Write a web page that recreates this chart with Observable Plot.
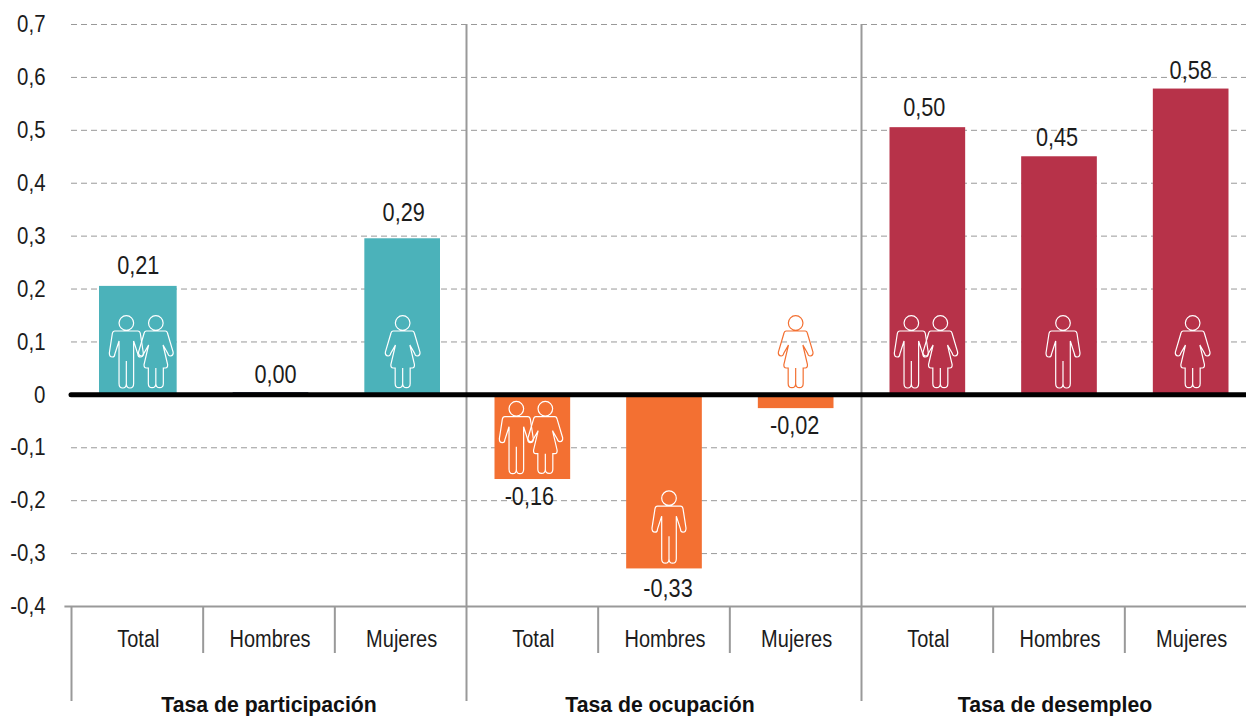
<!DOCTYPE html>
<html lang="es">
<head>
<meta charset="utf-8">
<script src="https://cdn.jsdelivr.net/npm/d3@7"></script>
<script src="https://cdn.jsdelivr.net/npm/@observablehq/plot@0.6"></script>
<style>
html,body{margin:0;padding:0;background:#fff;overflow:hidden}
svg{display:block}
</style>
</head>
<body>
<div id="chart"></div>
<script>
const groups = ["Tasa de participación", "Tasa de ocupación", "Tasa de desempleo"];
const categories = ["Total", "Hombres", "Mujeres", "Total", "Hombres", "Mujeres", "Total", "Hombres", "Mujeres"];
const barValues = [0.205, 0.004, 0.295, -0.16, -0.329, -0.026, 0.505, 0.45, 0.578];
const valueLabels = ["0,21", "0,00", "0,29", "-0,16", "-0,33", "-0,02", "0,50", "0,45", "0,58"];
const barGroups = ["part", "none", "part", "ocu", "ocu", "ocu", "des", "des", "des"];
const yTicks = [0.7, 0.6, 0.5, 0.4, 0.3, 0.2, 0.1, 0, -0.1, -0.2, -0.3, -0.4];
const groupEdges = [0, 3, 6, 9];
const subEdges = [1, 2, 4, 5, 7, 8];

const FONT = "'Liberation Sans','Arial',sans-serif";
const INK = "#1c1c1c";
const GREY = "#999999";

const bars = categories.map((c, i) => ({i, c, value: barValues[i], label: valueLabels[i], g: barGroups[i]}));

function limb(ctx, s, pts) {
  for (const p of pts) {
    if (p[0] === "M") ctx.moveTo(p[1]*s, p[2]*s);
    else if (p[0] === "L") ctx.lineTo(p[1]*s, p[2]*s);
    else if (p[0] === "Q") ctx.quadraticCurveTo(p[1]*s, p[2]*s, p[3]*s, p[4]*s);
  }
  ctx.closePath();
}
const head = (ctx, s, y) => {
  ctx.moveTo(7.3*s, y*s);
  ctx.arc(0, y*s, 7.3*s, 0, 2*Math.PI);
  ctx.closePath();
};
const sideW = [
  ["Q",-11.3,-21,-11.8,-18.5],["L",-17.3,0],["Q",-17.8,3.5,-14.5,4],["Q",-12.5,4,-12,1.5],["L",-7.2,-7],
  ["L",-11.8,12.5],["Q",-12,16,-9.5,16],["L",-7.5,16],["L",-7.5,31.5],["Q",-7.5,35.7,-3.8,35.7],["Q",0,35.7,0,31.5],["L",0,16]
];
const sideM = [
  ["Q",-13.5,-21,-14,-18.5],["L",-17,1],["Q",-17,5,-14,5],["Q",-11.5,5,-11.5,2],["L",-7.3,-11],
  ["L",-7.3,31.5],["Q",-7.3,36,-3.6,36],["Q",0,36,0,31.5],["L",0,9]
];
function mirrored(side, top) {
  const out = [["M", top, -21]];
  for (const p of side) out.push(p);
  const pts = [];
  const nodes = [[top,-21]];
  for (const p of side) nodes.push(p[0]==="Q" ? [p[3],p[4]] : [p[1],p[2]]);
  for (let k = side.length-1; k >= 0; k--) {
    const p = side[k], prev = nodes[k];
    if (p[0]==="Q") pts.push(["Q",-p[1],p[2],-prev[0],prev[1]]);
    else pts.push(["L",-prev[0],prev[1]]);
  }
  return out.concat(pts);
}
const womanPath = mirrored(sideW, -9.5);
const manPath = mirrored(sideM, -11.5);
const woman = {draw(ctx, size){const s=Math.sqrt(size/Math.PI)/36; head(ctx,s,-29); limb(ctx,s,womanPath);}};
const man = {draw(ctx, size){const s=Math.sqrt(size/Math.PI)/36; head(ctx,s,-29); limb(ctx,s,manPath);}};

const icon = (i, y, sym, dx, stroke = "#ffffff") =>
  Plot.dot([{i, y}], {x: d => d.i + 0.5, y: "y", symbol: sym, r: 36, dx, fill: "none", stroke, strokeWidth: 1.2});

const valueText = (i, dx, dy) =>
  Plot.text([bars[i]], {x: d => d.i + 0.5, y: "value", text: "label", fontSize: 25.5, fill: INK, lineAnchor: "middle", dx, dy});

const groupText = (k, dx) =>
  Plot.text([{g: groups[k], k}], {x: d => d.k * 3 + 1.5, y: -0.4, text: "g", fontSize: 22, fontWeight: "bold", fill: "#111", lineAnchor: "middle", dx, dy: 98});

const bar = (subset, dx, inset) =>
  Plot.rectY(subset, {x1: "i", x2: d => d.i + 1, y: "value", fill: "g", insetLeft: inset, insetRight: inset, dx});

const chart = Plot.plot({
  width: 1246,
  height: 716,
  marginTop: 24,
  marginBottom: 110,
  marginLeft: 72,
  marginRight: 0,
  style: {fontFamily: FONT, background: "#fff"},
  x: {type: "linear", domain: [0, 9], range: [71, 1256], axis: null},
  y: {domain: [-0.4, 0.7]},
  color: {domain: ["part", "ocu", "des", "none"], range: ["#4bb2ba", "#f37032", "#b73249", "#1d2a4d"]},
  marks: [
    Plot.axisY({ticks: yTicks, tickSize: 0, tickPadding: 27, fontSize: 24, fill: INK,
      tickFormat: d => d === 0 ? "0" : d.toFixed(1).replace(".", ","), label: null}),
    Plot.ruleY(yTicks.filter(d => d > -0.4 && d !== 0), {x1: 0, x2: 9, stroke: GREY, strokeWidth: 1, strokeDasharray: "6,4"}),
    bar(bars.slice(0, 1), 1, 27),
    bar(bars.slice(1, 3), 2, 28),
    bar(bars.slice(3), 0.5, 28),
    Plot.ruleY([-0.4], {x1: -0.05, x2: 9, stroke: GREY, strokeWidth: 2}),
    Plot.ruleX(groupEdges.slice(1, 3), {y1: 0.7, y2: -0.4, stroke: GREY, strokeWidth: 2}),
    Plot.ruleX(groupEdges.slice(0, 3), {y1: -0.4, y2: -0.4, stroke: GREY, strokeWidth: 2, insetBottom: -95}),
    Plot.ruleX(subEdges, {y1: -0.4, y2: -0.4, stroke: GREY, strokeWidth: 2, insetBottom: -47}),
    Plot.ruleY([0], {x1: 0, x2: 9, stroke: "#000", strokeWidth: 5, strokeLinecap: "round"}),
    icon(0, 0.081, man, -11), icon(0, 0.081, woman, 18.5),
    icon(2, 0.081, woman, 2),
    icon(3, -0.081, man, -16), icon(3, -0.081, woman, 13),
    icon(4, -0.25, man, 5),
    icon(5, 0.081, woman, 0, "#f37032"),
    icon(6, 0.081, man, -16), icon(6, 0.081, woman, 13),
    icon(7, 0.081, man, 4),
    icon(8, 0.081, woman, 2),
    valueText(0, 1, -20.6), valueText(1, 6.5, -18), valueText(2, 3, -26),
    valueText(3, -3, 17.4), valueText(4, 4, 20), valueText(5, -1, 17),
    valueText(6, -3, -20), valueText(7, -2, -19), valueText(8, 0, -18),
    Plot.text(categories.map((c, i) => ({c, i})), {x: d => d.i + 0.5, y: -0.4, text: "c", fontSize: 23.5, fill: INK, lineAnchor: "middle", dx: 1, dy: 33}),
    groupText(0, 0), groupText(1, -4), groupText(2, -4)
  ]
});
document.getElementById("chart").append(chart);

// The reference uses a condensed face: narrow the real text horizontally.
for (const t of chart.querySelectorAll("text")) {
  const bold = t.closest("[font-weight]")?.getAttribute("font-weight") === "bold";
  const len = t.getComputedTextLength();
  t.setAttribute("textLength", (len * (bold ? 0.965 : 0.85)).toFixed(1));
  t.setAttribute("lengthAdjust", "spacingAndGlyphs");
}
</script>
</body>
</html>
